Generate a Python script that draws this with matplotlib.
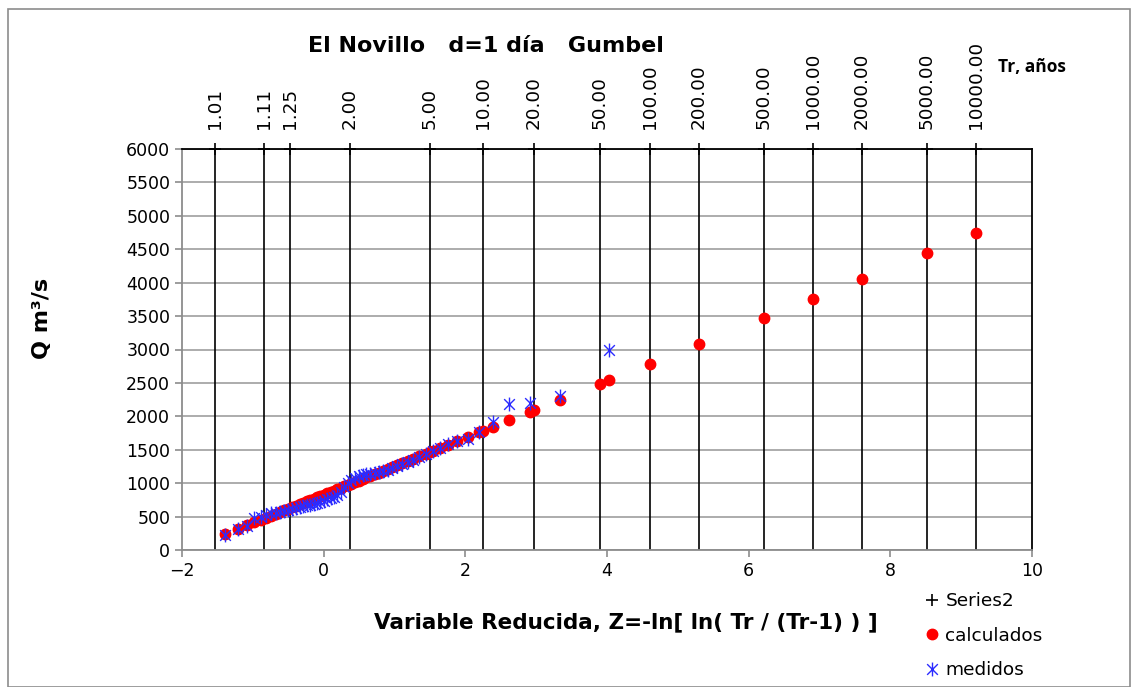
import numpy as np
import matplotlib
matplotlib.use("Agg")
import matplotlib.pyplot as plt
from matplotlib.path import Path
from matplotlib.patches import Rectangle

# return periods shown on the top (Tr, years)
tr_labels = [1.01, 1.11, 1.25, 2, 5, 10, 20, 50, 100, 200, 500, 1000, 2000, 5000, 10000]

# measured series: reduced variate z and flow Q (m3/s)
z_med = [4.034, 3.332, 2.918, 2.621, 2.388, 2.196, 2.032, 1.889, 1.761, 1.646,
         1.540, 1.442, 1.351, 1.266, 1.186, 1.110, 1.038, 0.969, 0.903, 0.839,
         0.778, 0.718, 0.660, 0.604, 0.549, 0.496, 0.443, 0.392, 0.341, 0.291,
         0.242, 0.193, 0.145, 0.097, 0.049, 0.002, -0.046, -0.094, -0.142, -0.190,
         -0.239, -0.289, -0.339, -0.391, -0.443, -0.498, -0.554, -0.613, -0.675, -0.741,
         -0.812, -0.889, -0.977, -1.080, -1.209, -1.397]
q_med = [2990, 2310, 2200, 2180, 1920, 1766, 1667, 1627, 1582, 1520,
         1480, 1430, 1390, 1350, 1320, 1290, 1250, 1220, 1200, 1180,
         1160, 1150, 1140, 1130, 1120, 1100, 1080, 1050, 1000, 950,
         870, 820, 800, 780, 760, 740, 720, 700, 690, 680,
         670, 660, 640, 630, 620, 600, 590, 570, 560, 550,
         530, 500, 480, 360, 320, 220]

# calculated series (Gumbel fit) at the measured positions
q_calc = [2542, 2244, 2068, 1942, 1843, 1761, 1692, 1631, 1576, 1528,
          1483, 1441, 1402, 1366, 1332, 1300, 1269, 1240, 1212, 1185,
          1159, 1133, 1109, 1085, 1061, 1039, 1016, 995, 973, 952,
          931, 910, 890, 869, 849, 829, 808, 788, 768, 747,
          726, 705, 684, 662, 640, 616, 593, 567, 541, 513,
          483, 450, 413, 369, 314, 234]
# calculated series at the return periods
z_calc_tr = [0.367, 1.500, 2.250, 2.970, 3.902, 4.600, 5.296, 6.214, 6.907, 7.600, 8.517, 9.210]
q_calc_tr = [984, 1466, 1784, 2090, 2486, 2783, 3079, 3469, 3763, 4058, 4448, 4742]

tr = np.array(tr_labels, dtype=float)
z_tr = -np.log(np.log(tr / (tr - 1)))

fig = plt.figure(figsize=(11.34, 6.87), dpi=100)
ax = fig.add_axes([182 / 1134, 137 / 687, 850 / 1134, 401 / 687])

# outer chart border
fig.patches.append(Rectangle((8 / 1134, 0), 1122 / 1134, 678 / 687, transform=fig.transFigure,
                             fill=False, edgecolor="#8c8c8c", lw=1.2))

ax.set_xlim(-2, 10)
ax.set_ylim(0, 6000)
ax.set_xticks(np.arange(-2, 11, 2))
ax.set_yticks(np.arange(0, 6001, 500))
ax.yaxis.grid(True, color="#a6a6a6", lw=1.3)
ax.set_axisbelow(True)
ax.tick_params(labelsize=12.5, color="#8c8c8c", length=5, width=1.2)
for s in ["left", "bottom"]:
    ax.spines[s].set_color("#8c8c8c")
    ax.spines[s].set_linewidth(1.3)
for s in ["top", "right"]:
    ax.spines[s].set_color("black")
    ax.spines[s].set_linewidth(1.3)

# Series2: vertical lines at the return periods
ax.vlines(z_tr, 0, 6000, colors="black", lw=1.2, zorder=2)
ax.plot(z_tr, [6000] * len(z_tr), "+", color="black", ms=9, mew=1.2, clip_on=False, zorder=5,
        label="Series2")
for z, t in zip(z_tr, tr_labels):
    ax.text(z, 6000 + 300, "%.2f" % t, rotation=90, ha="center", va="bottom", fontsize=13.2)

# calculated
ax.plot(z_med + z_calc_tr, q_calc + q_calc_tr, "o", color="red", ms=7.5, mec="red",
        zorder=3, label="calculados")

# measured (asterisk)
star = Path([(-1, -1), (1, 1), (-1, 1), (1, -1), (0, -1.3), (0, 1.3)],
            [Path.MOVETO, Path.LINETO, Path.MOVETO, Path.LINETO, Path.MOVETO, Path.LINETO])
ax.plot(z_med, q_med, linestyle="none", marker=star, color="#2b2bff", ms=10, mew=1.0,
        mfc="none", zorder=4, label="medidos")

fig.text(486 / 1134, 1 - 46 / 687, "El Novillo   d=1 día   Gumbel", ha="center", va="center",
         fontsize=16, fontweight="bold")
fig.text(1032 / 1134, 1 - 67 / 687, "Tr, años", ha="center", va="center", fontsize=12.5,
         fontweight="bold", family="Open Sans")
fig.text(626 / 1134, 1 - 622 / 687, "Variable Reducida, Z=-ln[ ln( Tr / (Tr-1) ) ]",
         ha="center", va="center", fontsize=15.5, fontweight="bold")
fig.text(42 / 1134, 1 - 318 / 687, "Q m³/s", ha="center", va="center", rotation=90,
         fontsize=16, fontweight="bold")

fig.legend(loc="upper left", bbox_to_anchor=(925 / 1134, 1 - 592 / 687), frameon=False,
           fontsize=13.3, handlelength=0.8, handletextpad=0.3, labelspacing=0.9,
           borderaxespad=0, borderpad=0)

fig.savefig("out.png", dpi=100)
